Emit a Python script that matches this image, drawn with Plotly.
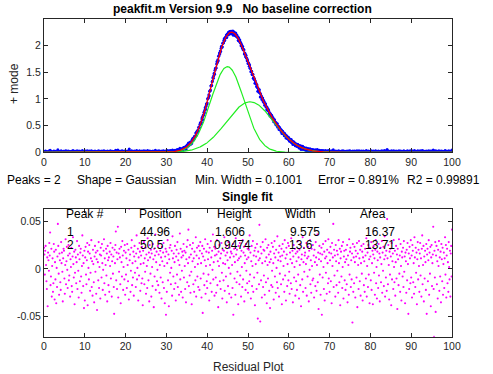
import numpy as np
import plotly.graph_objects as go

# ---- data ----
peak_numbers = [1, 2]
positions = [44.96, 50.5]
heights = [1.606, 0.9474]
widths = [9.575, 13.6]
areas = [16.37, 13.71]

x_tick_vals = [0, 10, 20, 30, 40, 50, 60, 70, 80, 90, 100]
top_y_ticks = [0, 0.5, 1, 1.5, 2]
top_y_labels = ["0", "0.5", "1", "1.5", "2"]
res_y_ticks = [-0.05, 0, 0.05]
res_y_labels = ["-0.05", "0", "0.05"]

# sample positions of the measured data (0 to 100, step 0.1)
x_data = np.arange(1001) * 0.1

# residuals, one per sample position
residuals = [
    0.022, 0.015, -0.006, 0.019, 0.024, 0.004, -0.013, -0.021, 0.012, -0.039, 0.017, 0.009, -0.002, 0.027, 0.014, 0.038, -0.017, -0.008, 0.021, -0.029,
    0.003, 0.011, -0.024, -0.015, 0.026, 0.018, -0.032, 0.007, -0.011, 0.020, -0.036, 0.001, -0.019, 0.013, 0.047, 0.024, -0.005, -0.027, 0.016, 0.009,
    -0.014, -0.022, 0.028, 0.006, 0.017, -0.003, -0.034, 0.011, 0.021, 0.019, -0.010, -0.026, 0.004, 0.031, -0.016, 0.008, 0.023, -0.001, -0.020, 0.014,
    0.025, -0.012, -0.007, 0.016, -0.029, 0.010, 0.002, 0.022, -0.018, -0.024, 0.013, 0.033, 0.005, -0.009, 0.018, -0.037, -0.004, 0.020, 0.012, -0.015,
    0.007, 0.029, -0.021, 0.015, -0.002, -0.030, 0.024, 0.010, -0.013, 0.017, 0.021, -0.008, -0.025, 0.003, 0.035, 0.014, -0.018, 0.006, -0.041, 0.019,
    -0.033, 0.012, 0.023, -0.006, -0.016, 0.009, 0.027, -0.038, 0.018, 0.001, -0.011, 0.025, 0.016, -0.023, -0.004, 0.011, 0.030, -0.019, 0.008, -0.028,
    0.020, 0.005, -0.014, -0.035, 0.013, 0.024, -0.003, 0.017, -0.026, 0.010, -0.043, 0.019, 0.007, -0.012, 0.028, -0.020, 0.002, 0.015, -0.031, 0.022,
    0.014, -0.009, 0.026, 0.006, -0.022, -0.001, 0.019, 0.031, -0.015, 0.011, -0.027, 0.004, 0.021, -0.007, 0.016, -0.034, 0.024, 0.009, -0.017, 0.012,
    -0.024, 0.018, 0.003, 0.027, -0.010, 0.015, -0.029, 0.008, 0.022, -0.005, 0.013, -0.019, -0.047, 0.020, 0.006, 0.025, 0.039, -0.012, 0.017, -0.021,
    0.010, 0.044, -0.030, 0.016, -0.003, 0.021, 0.012, -0.016, -0.036, 0.023, 0.007, -0.008, 0.029, 0.014, -0.022, 0.002, 0.019, -0.011, 0.025, -0.027,
    0.017, -0.006, 0.011, -0.020, 0.026, 0.004, -0.013, 0.020, -0.032, 0.063, 0.009, 0.015, -0.024, -0.002, 0.022, 0.030, -0.017, 0.006, -0.009, 0.018,
    -0.028, 0.013, 0.024, -0.004, 0.008, -0.019, 0.016, 0.035, -0.011, 0.001, 0.021, -0.033, 0.012, -0.007, 0.027, 0.018, -0.023, 0.005, 0.014, -0.015,
    0.023, -0.010, -0.038, 0.019, 0.006, 0.028, -0.016, 0.011, -0.003, 0.022, -0.026, 0.015, 0.003, -0.020, 0.032, 0.009, -0.012, 0.017, -0.034, 0.025,
    0.012, -0.005, 0.020, -0.029, 0.016, 0.002, -0.018, 0.026, 0.010, -0.040, 0.021, -0.008, 0.014, 0.036, -0.022, 0.007, 0.018, -0.013, -0.001, 0.024,
    -0.017, 0.015, 0.029, -0.025, 0.004, 0.019, -0.009, 0.012, -0.031, 0.023, 0.008, -0.014, 0.017, 0.027, -0.020, 0.003, -0.036, 0.013, 0.021, -0.048,
    0.018, -0.024, 0.006, 0.030, -0.012, 0.015, -0.039, 0.010, 0.022, -0.004, 0.025, -0.016, 0.001, 0.019, -0.028, 0.034, 0.011, -0.008, 0.016, -0.021,
    0.007, 0.024, -0.015, -0.033, 0.013, 0.020, -0.006, 0.028, -0.019, 0.009, 0.016, -0.027, 0.004, 0.037, -0.011, 0.021, -0.024, 0.012, -0.002, 0.018,
    -0.030, 0.014, 0.026, -0.009, 0.019, 0.003, -0.021, 0.017, -0.035, 0.010, 0.023, -0.014, 0.030, 0.006, 0.041, -0.018, 0.012, -0.007, 0.025, -0.025,
    0.015, -0.003, -0.037, 0.021, 0.008, 0.027, -0.016, 0.011, -0.024, 0.018, 0.002, -0.012, 0.033, -0.029, 0.014, 0.022, -0.008, 0.005, -0.019, 0.024,
    0.011, -0.022, 0.019, 0.028, -0.010, 0.006, -0.030, 0.016, 0.024, -0.046, 0.013, -0.005, 0.021, -0.017, 0.009, 0.031, -0.026, 0.003, 0.018, -0.013,
    -0.020, 0.026, 0.010, -0.006, 0.017, -0.033, 0.022, 0.004, -0.015, 0.029, 0.012, -0.024, 0.019, -0.001, 0.036, -0.011, 0.007, 0.023, -0.028, 0.014,
    0.021, -0.009, -0.025, 0.015, 0.030, -0.017, 0.008, -0.040, 0.018, 0.003, 0.025, -0.013, 0.011, -0.021, 0.016, 0.027, -0.004, -0.031, 0.020, 0.006,
    -0.012, 0.019, 0.033, -0.023, 0.005, 0.014, -0.008, 0.024, -0.035, 0.017, 0.009, -0.018, 0.028, 0.001, -0.026, 0.022, 0.012, -0.005, 0.018, -0.030,
    0.016, 0.004, -0.020, 0.026, -0.048, 0.013, 0.021, -0.010, 0.007, -0.027, 0.032, 0.015, -0.014, 0.020, -0.003, 0.009, -0.037, 0.024, 0.011, -0.016,
    0.027, -0.007, 0.013, -0.029, 0.019, 0.002, -0.019, 0.030, -0.011, 0.017, 0.023, -0.034, 0.006, 0.014, -0.022, 0.026, -0.002, 0.010, -0.015, 0.021,
    -0.025, 0.012, 0.020, -0.013, 0.035, -0.006, 0.017, -0.031, 0.008, 0.024, -0.018, 0.003, 0.029, -0.024, 0.014, -0.009, 0.019, -0.038, 0.022, 0.005,
    0.013, -0.021, 0.026, -0.004, -0.052, 0.018, 0.009, -0.016, 0.046, 0.011, -0.055, 0.023, -0.012, 0.016, -0.030, 0.006, 0.028, -0.019, 0.020, -0.007,
    0.019, -0.027, 0.008, 0.031, -0.014, 0.012, -0.036, 0.022, 0.004, -0.010, 0.025, 0.015, -0.023, 0.007, -0.041, 0.018, 0.010, -0.017, 0.027, -0.002,
    -0.019, 0.023, 0.006, -0.032, 0.016, 0.029, -0.008, 0.012, -0.025, 0.020, 0.001, -0.014, 0.034, -0.020, 0.009, 0.017, -0.029, 0.024, -0.005, 0.013,
    0.008, -0.016, 0.021, -0.037, 0.014, 0.026, -0.011, 0.003, 0.018, -0.024, 0.030, -0.007, 0.011, -0.033, 0.022, 0.015, -0.018, 0.005, 0.027, -0.012,
    0.024, -0.003, -0.026, 0.017, 0.010, -0.015, 0.032, -0.021, 0.006, 0.019, -0.035, 0.013, 0.025, -0.009, 0.002, 0.021, -0.028, 0.016, -0.013, 0.008,
    -0.022, 0.018, 0.029, -0.006, 0.012, -0.031, 0.020, 0.004, -0.017, 0.026, -0.039, 0.010, 0.015, -0.011, 0.033, -0.024, 0.007, 0.022, -0.003, 0.014,
    0.017, -0.020, 0.005, 0.027, -0.028, 0.011, -0.008, 0.023, 0.013, -0.034, 0.019, -0.001, 0.030, -0.016, 0.009, -0.025, 0.021, 0.003, -0.012, 0.025,
    -0.010, 0.014, -0.030, 0.020, 0.007, -0.018, 0.028, 0.012, -0.023, 0.004, 0.036, -0.014, 0.017, -0.042, 0.010, 0.024, -0.006, 0.016, -0.027, 0.008,
    0.022, -0.048, 0.015, -0.009, 0.026, 0.002, -0.021, 0.018, -0.033, 0.011, 0.029, -0.004, 0.013, -0.026, 0.020, 0.006, -0.015, 0.031, -0.010, 0.017,
    -0.024, 0.009, 0.023, -0.013, 0.016, -0.036, 0.027, 0.003, 0.012, 0.047, -0.019, 0.020, -0.007, 0.014, -0.029, 0.025, 0.008, -0.017, 0.019, -0.002,
    0.015, -0.025, 0.030, 0.006, -0.014, 0.021, -0.038, 0.011, 0.018, -0.008, 0.024, -0.020, 0.002, 0.028, -0.031, 0.013, 0.019, -0.012, 0.007, -0.022,
    0.020, 0.010, -0.016, 0.025, -0.035, 0.014, 0.004, -0.027, 0.031, -0.006, 0.018, 0.022, -0.019, 0.009, -0.011, 0.016, -0.056, 0.026, -0.024, 0.012,
    -0.015, 0.023, 0.007, -0.030, 0.019, 0.013, -0.009, 0.027, -0.040, 0.016, 0.004, -0.021, 0.029, 0.011, -0.013, 0.020, -0.028, 0.006, 0.024, -0.005,
    0.018, -0.033, 0.012, 0.026, -0.017, 0.008, -0.024, 0.021, 0.014, -0.010, 0.032, -0.029, 0.003, 0.017, -0.019, 0.025, -0.006, 0.010, -0.036, 0.022,
    0.013, -0.012, 0.028, -0.022, 0.006, 0.019, -0.037, 0.015, 0.024, -0.004, 0.011, -0.027, 0.020, 0.030, -0.015, 0.002, -0.031, 0.018, 0.009, -0.020,
    0.026, -0.007, 0.016, -0.034, 0.012, 0.022, -0.014, 0.005, 0.029, -0.025, 0.017, -0.002, 0.023, -0.018, 0.010, 0.034, -0.029, 0.014, -0.009, 0.019,
    -0.023, 0.052, 0.011, -0.016, 0.025, 0.004, -0.032, 0.018, -0.006, 0.021, 0.013, -0.038, 0.027, -0.011, 0.008, 0.016, -0.021, 0.030, 0.002, -0.014,
    0.019, -0.028, 0.007, 0.024, -0.010, 0.015, -0.042, 0.021, 0.010, -0.017, 0.031, -0.005, 0.014, -0.024, 0.026, 0.003, -0.033, 0.018, 0.012, -0.008,
    0.022, -0.019, 0.029, -0.003, 0.013, -0.036, 0.017, 0.008, -0.025, 0.020, -0.012, 0.027, 0.005, -0.047, 0.016, -0.021, 0.023, 0.011, -0.015, 0.030,
    -0.009, 0.014, -0.030, 0.025, 0.019, -0.014, 0.006, -0.026, 0.033, 0.012, -0.019, 0.022, -0.004, 0.017, -0.037, 0.010, 0.028, -0.011, 0.020, 0.003,
    -0.024, 0.016, 0.027, -0.007, 0.011, -0.029, 0.021, 0.035, -0.016, 0.004, 0.024, -0.034, 0.013, -0.010, 0.019, 0.007, -0.022, 0.026, -0.047, 0.015,
    0.021, -0.013, 0.009, 0.030, -0.027, 0.017, -0.005, 0.023, -0.039, 0.012, 0.025, -0.018, 0.006, 0.015, 0.044, -0.021, -0.071, 0.019, -0.009, 0.028,
    -0.045, 0.014, 0.024, -0.016, 0.008, -0.031, 0.020, 0.003, 0.029, -0.023, 0.012, -0.008, 0.018, -0.035, 0.026, 0.010, -0.013, 0.022, -0.027, 0.005,
    0.017, -0.020, 0.011, 0.033, -0.006, 0.025, -0.030, 0.014, 0.021, -0.015, 0.007, -0.024, 0.028, 0.002, -0.011, 0.019, -0.029, 0.016, 0.024, -0.008,
    0.041,
]

# ---- model built from the fitted peak parameters shown in the table ----
def gaussian(x, pos, h, w):
    return h * np.exp(-((x - pos) / (0.6005615 * w)) ** 2)

components = [gaussian(x_data, p, h, w) for p, h, w in zip(positions, heights, widths)]
model = components[0] + components[1]
measured = model + np.array(residuals)

W, H = 493, 374
FONT = "Arial, Liberation Sans, sans-serif"
AX = "#262626"

fig = go.Figure()
fig.add_trace(go.Scatter(x=x_data, y=measured, mode="markers",
                         marker=dict(color="#0000ff", size=3), xaxis="x", yaxis="y",
                         showlegend=False, hoverinfo="skip"))
for comp in components:
    fig.add_trace(go.Scatter(x=x_data, y=comp, mode="lines",
                             line=dict(color="#22ee22", width=1.2), xaxis="x", yaxis="y",
                             showlegend=False, hoverinfo="skip"))
fig.add_trace(go.Scatter(x=x_data, y=model, mode="lines",
                         line=dict(color="#ff0000", width=1.3), xaxis="x", yaxis="y",
                         showlegend=False, hoverinfo="skip"))
fig.add_trace(go.Scatter(x=x_data, y=residuals, mode="markers",
                         marker=dict(color="#ff00ff", size=2.1), xaxis="x2", yaxis="y2",
                         showlegend=False, hoverinfo="skip"))

def px_x(px):
    return px / W

def px_y(py):
    return 1 - py / H

axis_common = dict(showline=True, linecolor=AX, linewidth=1, mirror="allticks",
                   ticks="inside", ticklen=4, tickcolor=AX, showgrid=False, zeroline=False,
                   automargin=False,
                   tickfont=dict(family=FONT, size=10.5, color=AX))

xdom = [px_x(44), px_x(452)]
fig.update_layout(
    width=W, height=H, margin=dict(l=0, r=0, t=0, b=0, autoexpand=False),
    paper_bgcolor="white", plot_bgcolor="white",
    xaxis=dict(domain=xdom, range=[0, 100], tickvals=x_tick_vals, anchor="y", **axis_common),
    yaxis=dict(domain=[px_y(152.3), px_y(19)], range=[0, 2.5], tickvals=top_y_ticks,
               ticktext=top_y_labels, anchor="x", **axis_common),
    xaxis2=dict(domain=xdom, range=[0, 100], tickvals=x_tick_vals, anchor="y2", **axis_common),
    yaxis2=dict(domain=[px_y(336.7), px_y(208.5)], range=[-0.0709, 0.0631], tickvals=res_y_ticks,
                ticktext=res_y_labels, anchor="x2", **axis_common),
)

ann = []

def text(s, x, y, xanchor="left", size=12, bold=False, angle=0, color="black"):
    ann.append(dict(text=("<b>%s</b>" % s) if bold else s, x=px_x(x), y=px_y(y),
                    xref="paper", yref="paper", xanchor=xanchor, yanchor="middle",
                    showarrow=False, textangle=angle,
                    font=dict(family=FONT, size=size, color=color)))

NB = "\u00a0"
text("peakfit.m Version 9.9" + NB * 3 + "No baseline correction", 242, 9, "center", 12, True)
text("+ mode", 14, 84, "center", 12, angle=-90, color=AX)
text("Peaks = 2", 5, 179.5)
text("Shape = Gaussian", 75, 179.5)
text("Min. Width = 0.1001", 193, 179.5)
text("Error = 0.891%", 316, 179.5)
text("R2 = 0.99891", 405, 179.5)
text("Single fit", 247, 197, "center", 12, True)
text("Residual Plot", 248, 366.5, "center", 12, color=AX)

# results table inside the residual plot
header = ["Peak #", "Position", "Height", "Width", "Area"]
header_x = [64, 137, 215, 282.5, 357.5]
for s, x in zip(header, header_x):
    text(s, x, 214)
row_y = [232, 245]
col_x = [[65, 138.3, 212.7, 288.3, 362.5], [65, 138.3, 212.2, 287.3, 362.5]]
for i in range(2):
    vals = [str(peak_numbers[i]), "%g" % positions[i], "%g" % heights[i],
            "%g" % widths[i], "%g" % areas[i]]
    for s, x in zip(vals, col_x[i]):
        text(s, x, row_y[i])

fig.update_layout(annotations=ann)
fig.write_html("out.html", config={"displayModeBar": False},
               post_script="document.body.style.margin='0';")
